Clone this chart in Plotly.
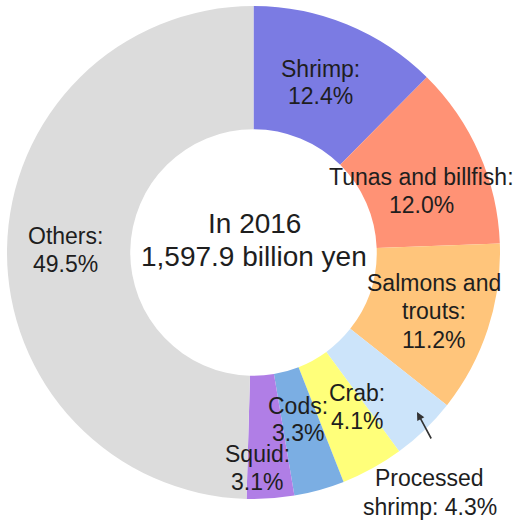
import plotly.graph_objects as go

W, H = 514, 521

categories = ["Shrimp", "Tunas and billfish", "Salmons and trouts", "Processed shrimp",
              "Crab", "Cods", "Squid", "Others"]
shares = [12.4, 12.0, 11.2, 4.3, 4.1, 3.3, 3.1, 49.5]
colors = ["#7B7BE3", "#FF9275", "#FFC57B", "#CCE4FA", "#FFFF7A", "#7BAEE3", "#B07EE6", "#DCDCDC"]

# label lines (text) and their centre positions in pixels (x, y of each line)
label_lines = [
    ["Shrimp:", "12.4%"],
    ["Tunas and billfish:", "12.0%"],
    ["Salmons and", "trouts:", "11.2%"],
    ["Processed", "shrimp: 4.3%"],
    ["Crab:", "4.1%"],
    ["Cods:", "3.3%"],
    ["Squid:", "3.1%"],
    ["Others:", "49.5%"],
]
label_pos = [
    [(320, 69), (320, 96)],
    [(421, 177), (421, 205)],
    [(434, 283), (434, 311), (434, 340)],
    [(429, 478), (430, 507)],
    [(357, 393), (357, 421)],
    [(298, 406), (298, 433)],
    [(257, 454), (257, 482)],
    [(65, 236), (65, 264)],
]
center_lines = ["In 2016", "1,597.9 billion yen"]
center_pos = [(254, 224), (254, 256)]

fig = go.Figure()
fig.add_trace(go.Pie(
    labels=categories, values=shares, sort=False, direction="clockwise",
    rotation=0, hole=0.5, textinfo="none", hoverinfo="label+percent",
    marker=dict(colors=colors, line=dict(width=0)),
    domain=dict(x=[7 / W, 500 / W], y=[1 - 500 / H, 1 - 5 / H]),
    showlegend=False,
))

def px(x, y):
    return x / W, 1 - y / H

annotations = []
font_lab = dict(family="Liberation Sans, Arial, sans-serif", size=23, color="#1e1e1e")
for lines, poss in zip(label_lines, label_pos):
    for t, (x, y) in zip(lines, poss):
        X, Y = px(x, y)
        annotations.append(dict(x=X, y=Y, xref="paper", yref="paper", text=t,
                                showarrow=False, font=font_lab,
                                xanchor="center", yanchor="middle"))
font_c = dict(family="Liberation Sans, Arial, sans-serif", size=28, color="#1e1e1e")
for t, (x, y) in zip(center_lines, center_pos):
    X, Y = px(x, y)
    annotations.append(dict(x=X, y=Y, xref="paper", yref="paper", text=t,
                            showarrow=False, font=font_c,
                            xanchor="center", yanchor="middle"))
# arrow pointing to the processed shrimp slice
hx, hy = px(417, 412)
annotations.append(dict(x=hx, y=hy, xref="paper", yref="paper", text="",
                        showarrow=True, ax=15, ay=28, axref="pixel", ayref="pixel",
                        arrowhead=2, arrowsize=1, arrowwidth=1.6, arrowcolor="#333333"))

fig.update_layout(
    width=W, height=H, margin=dict(l=0, r=0, t=0, b=0),
    paper_bgcolor="white", plot_bgcolor="white",
    annotations=annotations,
)
fig.write_html("out.html")
